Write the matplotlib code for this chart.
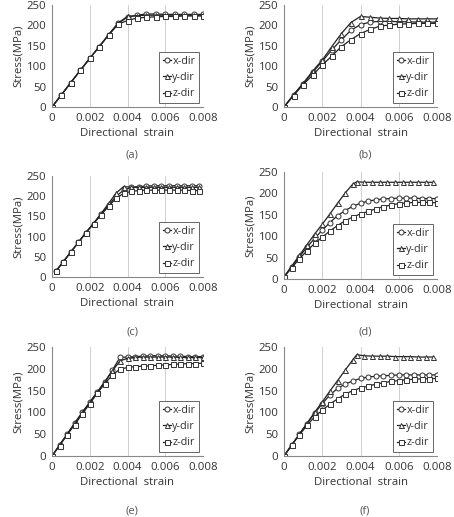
import matplotlib
matplotlib.use('Agg')
import matplotlib.pyplot as plt

plt.rcParams['font.family'] = ['Open Sans', 'DejaVu Sans']

# strain grids
strain_a = [0, 0.0005, 0.001, 0.0015, 0.002, 0.0025, 0.003, 0.0035, 0.004,
            0.0045, 0.005, 0.0055, 0.006, 0.0065, 0.007, 0.0075, 0.008]
strain_c = [0.0002, 0.0006, 0.001, 0.0014, 0.0018, 0.0022, 0.0026, 0.003, 0.0034,
            0.0038, 0.0042, 0.0046, 0.005, 0.0054, 0.0058, 0.0062, 0.0066, 0.007,
            0.0074, 0.0078]
strain_e = [0, 0.0004, 0.0008, 0.0012, 0.0016, 0.002, 0.0024, 0.0028, 0.0032,
            0.0036, 0.004, 0.0044, 0.0048, 0.0052, 0.0056, 0.006, 0.0064, 0.0068,
            0.0072, 0.0076, 0.008]
strain_yk = [0, 0.0004, 0.0008, 0.0012, 0.0016, 0.002, 0.0024, 0.0028, 0.0032,
             0.0036, 0.0038, 0.0042, 0.0046, 0.005, 0.0054, 0.0058, 0.0062,
             0.0066, 0.007, 0.0074, 0.0078]

# (a)
a_x = [0, 30, 60, 90, 119, 148, 177, 205, 220, 225, 228, 228, 227, 227, 227, 227, 227]
a_y = [0, 30, 60, 90, 119, 148, 177, 206, 222, 224, 225, 225, 225, 225, 225, 225, 225]
a_z = [0, 30, 60, 90, 119, 148, 176, 203, 212, 218, 220, 221, 222, 222, 223, 223, 223]
# (b)
b_x = [0, 30, 57, 85, 112, 140, 165, 188, 202, 208, 210, 210, 209, 209, 208, 208, 208]
b_y = [0, 30, 58, 88, 115, 148, 180, 207, 222, 220, 218, 217, 217, 216, 216, 216, 216]
b_z = [0, 28, 55, 78, 103, 125, 148, 165, 180, 190, 198, 201, 203, 204, 205, 205, 205]
# (c)
c_x = [14, 38, 62, 86, 110, 132, 155, 178, 200, 215, 222, 224, 225, 226, 226, 226, 226, 226, 226, 226]
c_y = [14, 38, 62, 86, 110, 133, 157, 182, 208, 224, 222, 222, 222, 222, 222, 222, 222, 222, 222, 222]
c_z = [14, 38, 62, 86, 110, 132, 154, 175, 195, 207, 212, 214, 215, 215, 215, 215, 215, 215, 214, 214]
# (d)
d_x = [5, 28, 52, 74, 95, 114, 132, 148, 160, 170, 177, 182, 185, 187, 188, 189, 189, 189, 188, 188, 188]
d_y = [5, 30, 55, 80, 105, 128, 152, 177, 201, 222, 227, 226, 226, 226, 226, 226, 226, 226, 226, 226, 226]
d_z = [5, 26, 47, 66, 83, 98, 112, 125, 136, 145, 152, 158, 164, 169, 173, 176, 178, 179, 179, 179, 178]
# (e)
e_x = [0, 25, 50, 75, 100, 123, 147, 170, 197, 226, 227, 228, 229, 230, 230, 230, 229, 229, 228, 228, 228]
e_y = [0, 25, 50, 75, 100, 123, 147, 170, 195, 218, 224, 226, 227, 227, 227, 227, 227, 226, 226, 226, 226]
e_z = [0, 24, 48, 72, 96, 120, 144, 166, 186, 199, 203, 205, 206, 207, 208, 209, 210, 211, 212, 212, 213]
# (f)
f_x = [0, 25, 50, 74, 98, 120, 140, 155, 165, 172, 178, 181, 183, 184, 185, 186, 186, 186, 186, 186, 186]
f_y = [0, 25, 50, 75, 100, 124, 149, 173, 197, 221, 232, 230, 229, 229, 229, 228, 228, 228, 227, 227, 227]
f_z = [0, 25, 48, 70, 90, 105, 119, 131, 142, 150, 156, 160, 165, 168, 171, 173, 175, 176, 177, 177, 178]

xticks = [0, 0.002, 0.004, 0.006, 0.008]
xtick_labels = ['0', '0.002', '0.004', '0.006', '0.008']
yticks = [0, 50, 100, 150, 200, 250]
labels = ['x-dir', 'y-dir', 'z-dir']
captions = ['(a)', '(b)', '(c)', '(d)', '(e)', '(f)']

W, H = 454, 517
# panel boxes in pixels: left, right, top, bottom
boxes = [(52, 203, 5, 107), (284, 437, 5, 107),
         (52, 203, 176, 277), (284, 437, 172, 279),
         (52, 203, 347, 456), (284, 437, 347, 456)]
cap_y = [155, 155, 332, 332, 511, 511]

panels = [
    ((strain_a, a_x), (strain_a, a_y), (strain_a, a_z)),
    ((strain_a, b_x), (strain_a, b_y), (strain_a, b_z)),
    ((strain_c, c_x), (strain_c, c_y), (strain_c, c_z)),
    ((strain_e, d_x), (strain_yk, d_y), (strain_e, d_z)),
    ((strain_e, e_x), (strain_e, e_y), (strain_e, e_z)),
    ((strain_e, f_x), (strain_yk, f_y), (strain_e, f_z)),
]
markers = ['o', '^', 's']
txt = '#333333'

fig = plt.figure(figsize=(W / 100, H / 100), dpi=100)
for i, (series, box, cap) in enumerate(zip(panels, boxes, captions)):
    l, r, t, b = box
    ax = fig.add_axes([l / W, 1 - b / H, (r - l) / W, (b - t) / H])
    for (sx, sy), m, lab in zip(series, markers, labels):
        ax.plot(sx, sy, color='#222222', lw=0.9, marker=m, ms=3.6,
                mfc='white', mec='#333333', mew=0.7, label=lab)
    ax.set_xlim(0, 0.008)
    ax.set_ylim(0, 250)
    ax.set_xticks(xticks)
    ax.set_xticklabels(xtick_labels)
    ax.set_yticks(yticks)
    ax.tick_params(length=0, labelsize=8.2, colors=txt, pad=4)
    ax.grid(axis='x', color='#d0d0d0', lw=0.7)
    ax.set_axisbelow(True)
    for s in ['top', 'right']:
        ax.spines[s].set_visible(False)
    for s in ['left', 'bottom']:
        ax.spines[s].set_color('#888888')
        ax.spines[s].set_linewidth(0.8)
    ax.set_xlabel('Directional  strain', fontsize=8.2, color=txt, labelpad=3)
    ax.set_ylabel('Stress(MPa)', fontsize=8.2, color=txt, labelpad=2)
    leg = ax.legend(loc='lower right', fontsize=7.8, handlelength=0.8,
                    handletextpad=0.1, borderpad=0.3, labelspacing=0.5,
                    fancybox=False, framealpha=1, borderaxespad=0.4)
    leg.get_frame().set_edgecolor('#666666')
    leg.get_frame().set_linewidth(0.7)
    for tx in leg.get_texts():
        tx.set_color(txt)
    fig.text((l + r) / 2 / W + 0.01, 1 - cap_y[i] / H, cap, ha='center',
             va='center', fontsize=8, color='#555555')

fig.savefig('out.png', dpi=100, facecolor='white')
